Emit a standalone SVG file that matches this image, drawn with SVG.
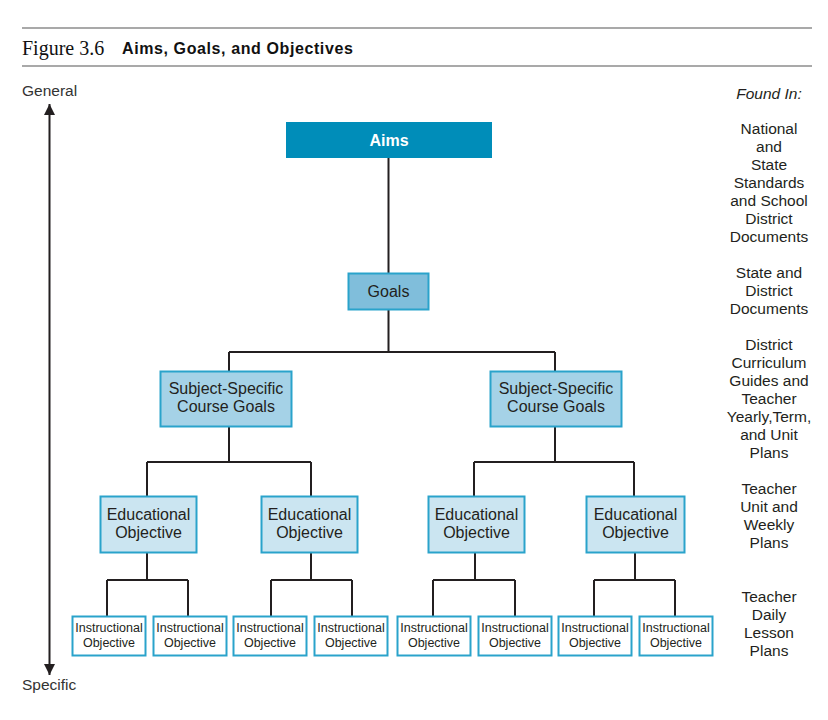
<svg xmlns="http://www.w3.org/2000/svg" width="828" height="720" viewBox="0 0 828 720">
<style>
text{font-family:"Liberation Sans",Arial,sans-serif;fill:#231f20}
.c{text-anchor:middle}
.b16{font-size:16px}
.i13{font-size:12.5px}
.r{font-size:15.5px;text-anchor:middle}
.conn{fill:none;stroke:#231f20;stroke-width:2}
.box{stroke:#2aa3cb;stroke-width:2}
</style>
<defs>
<marker id="ah" viewBox="0 0 10 10" refX="10" refY="5" markerWidth="11" markerHeight="14" markerUnits="userSpaceOnUse" orient="auto"><path d="M0,0 L10,5 L0,10 z" fill="#231f20"/></marker>
</defs>
<rect width="828" height="720" fill="#fff"/>
<g id="header">
<line x1="22" y1="28" x2="812" y2="28" stroke="#555" stroke-width="1.2"/>
<line x1="22" y1="66" x2="812" y2="66" stroke="#555" stroke-width="1.2"/>
<text x="22" y="55" style="font-family:'Liberation Serif','Times New Roman',serif;font-size:20px;fill:#111">Figure 3.6</text>
<text x="122" y="54" style="font-size:16px;font-weight:bold;letter-spacing:0.6px;fill:#111">Aims, Goals, and Objectives</text>
</g>
<g id="axis">
<text x="22" y="96" style="font-size:15.5px;fill:#333">General</text>
<text x="22" y="690" style="font-size:15.5px;fill:#333">Specific</text>
<line x1="49.5" y1="110" x2="49.5" y2="104" stroke="#231f20" stroke-width="2" marker-end="url(#ah)"/>
<line x1="49.5" y1="110" x2="49.5" y2="675" stroke="#231f20" stroke-width="2" marker-end="url(#ah)"/>
</g>
<g id="connectors">
<path class="conn" d="M388.5,158 V273"/>
<path class="conn" d="M388.5,310 V352 M229,352 H555 M229,352 V371 M555,352 V371"/>
<path class="conn" d="M229,427 V462 M147,462 H311 M147,462 V496 M311,462 V496"/>
<path class="conn" d="M555,427 V462 M474,462 H634 M474,462 V496 M634,462 V496"/>
<path class="conn" d="M147,553 V580 M107,580 H188 M107,580 V616 M188,580 V616"/>
<path class="conn" d="M311,553 V580 M271,580 H352 M271,580 V616 M352,580 V616"/>
<path class="conn" d="M475,553 V580 M433,580 H515 M433,580 V616 M515,580 V616"/>
<path class="conn" d="M635,553 V580 M594,580 H675 M594,580 V616 M675,580 V616"/>
</g>
<g id="aims">
<rect x="286" y="122" width="206" height="36" fill="#008db9"/>
<text x="389" y="146" class="c b16" style="fill:#fff;font-weight:bold">Aims</text>
</g>
<g id="goals">
<rect class="box" x="348.5" y="273.5" width="80" height="36" fill="#80bedb"/>
<text x="388.5" y="297" class="c b16">Goals</text>
</g>
<g id="subject-left">
<rect class="box" x="160.5" y="371.5" width="131" height="55" fill="#a5d2e7"/>
<text x="226" y="394" class="c b16">Subject-Specific</text>
<text x="226" y="412" class="c b16">Course Goals</text>
</g>
<g id="subject-right">
<rect class="box" x="490.5" y="371.5" width="131" height="55" fill="#a5d2e7"/>
<text x="556" y="394" class="c b16">Subject-Specific</text>
<text x="556" y="412" class="c b16">Course Goals</text>
</g>
<g id="edu1">
<rect class="box" x="100.5" y="496.5" width="96" height="56" fill="#cbe5f1"/>
<text x="148.5" y="520" class="c b16">Educational</text>
<text x="148.5" y="538" class="c b16">Objective</text>
</g>
<g id="edu2">
<rect class="box" x="261.5" y="496.5" width="96" height="56" fill="#cbe5f1"/>
<text x="309.5" y="520" class="c b16">Educational</text>
<text x="309.5" y="538" class="c b16">Objective</text>
</g>
<g id="edu3">
<rect class="box" x="428.5" y="496.5" width="96" height="56" fill="#cbe5f1"/>
<text x="476.5" y="520" class="c b16">Educational</text>
<text x="476.5" y="538" class="c b16">Objective</text>
</g>
<g id="edu4">
<rect class="box" x="586.5" y="496.5" width="98" height="56" fill="#cbe5f1"/>
<text x="635.5" y="520" class="c b16">Educational</text>
<text x="635.5" y="538" class="c b16">Objective</text>
</g>
<g id="instr1"><rect class="box" x="72.5" y="616.5" width="73" height="39" fill="#fff"/><text x="109" y="632" class="c i13">Instructional</text><text x="109" y="647" class="c i13">Objective</text></g>
<g id="instr2"><rect class="box" x="153.5" y="616.5" width="73" height="39" fill="#fff"/><text x="190" y="632" class="c i13">Instructional</text><text x="190" y="647" class="c i13">Objective</text></g>
<g id="instr3"><rect class="box" x="233.5" y="616.5" width="73" height="39" fill="#fff"/><text x="270" y="632" class="c i13">Instructional</text><text x="270" y="647" class="c i13">Objective</text></g>
<g id="instr4"><rect class="box" x="314.5" y="616.5" width="73" height="39" fill="#fff"/><text x="351" y="632" class="c i13">Instructional</text><text x="351" y="647" class="c i13">Objective</text></g>
<g id="instr5"><rect class="box" x="397.5" y="616.5" width="73" height="39" fill="#fff"/><text x="434" y="632" class="c i13">Instructional</text><text x="434" y="647" class="c i13">Objective</text></g>
<g id="instr6"><rect class="box" x="478.5" y="616.5" width="73" height="39" fill="#fff"/><text x="515" y="632" class="c i13">Instructional</text><text x="515" y="647" class="c i13">Objective</text></g>
<g id="instr7"><rect class="box" x="558.5" y="616.5" width="73" height="39" fill="#fff"/><text x="595" y="632" class="c i13">Instructional</text><text x="595" y="647" class="c i13">Objective</text></g>
<g id="instr8"><rect class="box" x="639.5" y="616.5" width="73" height="39" fill="#fff"/><text x="676" y="632" class="c i13">Instructional</text><text x="676" y="647" class="c i13">Objective</text></g>
<g id="found-in">
<text x="769" y="99" class="r" style="font-style:italic">Found In:</text>
<text x="769" y="134" class="r">National</text>
<text x="769" y="152" class="r">and</text>
<text x="769" y="170" class="r">State</text>
<text x="769" y="188" class="r">Standards</text>
<text x="769" y="206" class="r">and School</text>
<text x="769" y="224" class="r">District</text>
<text x="769" y="242" class="r">Documents</text>
<text x="769" y="278" class="r">State and</text>
<text x="769" y="296" class="r">District</text>
<text x="769" y="314" class="r">Documents</text>
<text x="769" y="350" class="r">District</text>
<text x="769" y="368" class="r">Curriculum</text>
<text x="769" y="386" class="r">Guides and</text>
<text x="769" y="404" class="r">Teacher</text>
<text x="769" y="422" class="r">Yearly,Term,</text>
<text x="769" y="440" class="r">and Unit</text>
<text x="769" y="458" class="r">Plans</text>
<text x="769" y="494" class="r">Teacher</text>
<text x="769" y="512" class="r">Unit and</text>
<text x="769" y="530" class="r">Weekly</text>
<text x="769" y="548" class="r">Plans</text>
<text x="769" y="602" class="r">Teacher</text>
<text x="769" y="620" class="r">Daily</text>
<text x="769" y="638" class="r">Lesson</text>
<text x="769" y="656" class="r">Plans</text>
</g>
</svg>
